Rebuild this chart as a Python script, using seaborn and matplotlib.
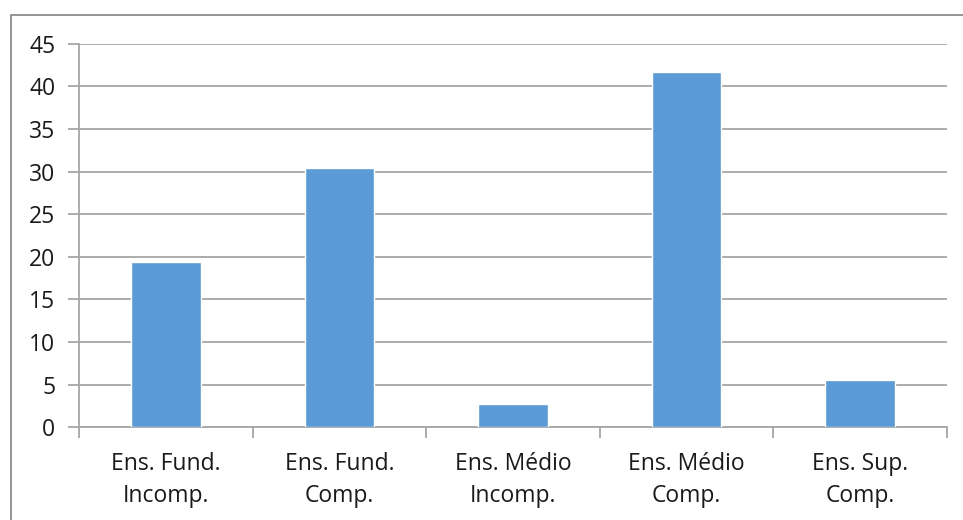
import seaborn as sns
import pandas as pd
import matplotlib.pyplot as plt
from matplotlib.patches import Rectangle

categories = ['Ens. Fund.\nIncomp.', 'Ens. Fund.\nComp.', 'Ens. Médio\nIncomp.',
              'Ens. Médio\nComp.', 'Ens. Sup.\nComp.']
values = [19.4, 30.4, 2.7, 41.7, 5.5]
y_ticks = [0, 5, 10, 15, 20, 25, 30, 35, 40, 45]

df = pd.DataFrame({'escolaridade': categories, 'pct': values})

sns.set_style('white')
plt.rcParams['font.family'] = ['Open Sans', 'DejaVu Sans']

grid_c = '#a6a6a6'
text_c = '#1a1a1a'
fs = 16.5

fig = plt.figure(figsize=(9.63, 5.20), dpi=100)
ax = fig.add_axes([79 / 963, 1 - 427.3 / 520, 868 / 963, 383.6 / 520])

sns.barplot(data=df, x='escolaridade', y='pct', color='#5b9bd5', saturation=1,
            width=0.4, ax=ax, zorder=3)

ax.set_ylim(0, 45)
ax.set_xlim(-0.5, 4.5)
ax.set_yticks(y_ticks)
ax.yaxis.grid(True, color=grid_c, linewidth=1.3, zorder=0)
ax.set_axisbelow(True)
ax.set_xlabel('')
ax.set_ylabel('')

for s in ['top', 'right']:
    ax.spines[s].set_visible(False)
for s in ['left', 'bottom']:
    ax.spines[s].set_color(grid_c)
    ax.spines[s].set_linewidth(1.3)

ax.tick_params(axis='y', which='major', direction='out', length=8, width=1.3,
               color=grid_c, labelsize=fs, labelcolor=text_c, pad=9, left=True)
ax.set_xticks([-0.5, 0.5, 1.5, 2.5, 3.5, 4.5], minor=True)
ax.tick_params(axis='x', which='minor', direction='out', length=8, width=1.3,
               color=grid_c, bottom=True)
ax.tick_params(axis='x', which='major', length=0, labelsize=fs,
               labelcolor=text_c, pad=18)
for lab in ax.get_xticklabels():
    lab.set_linespacing(1.45)

# moldura do gráfico
fig.patches.append(Rectangle((11 / 963, -0.1), 1.2, 1 - 15 / 520 + 0.1,
                             transform=fig.transFigure, fill=False,
                             edgecolor='#8c8c8c', linewidth=1.3))

fig.savefig('out.png', dpi=100)
